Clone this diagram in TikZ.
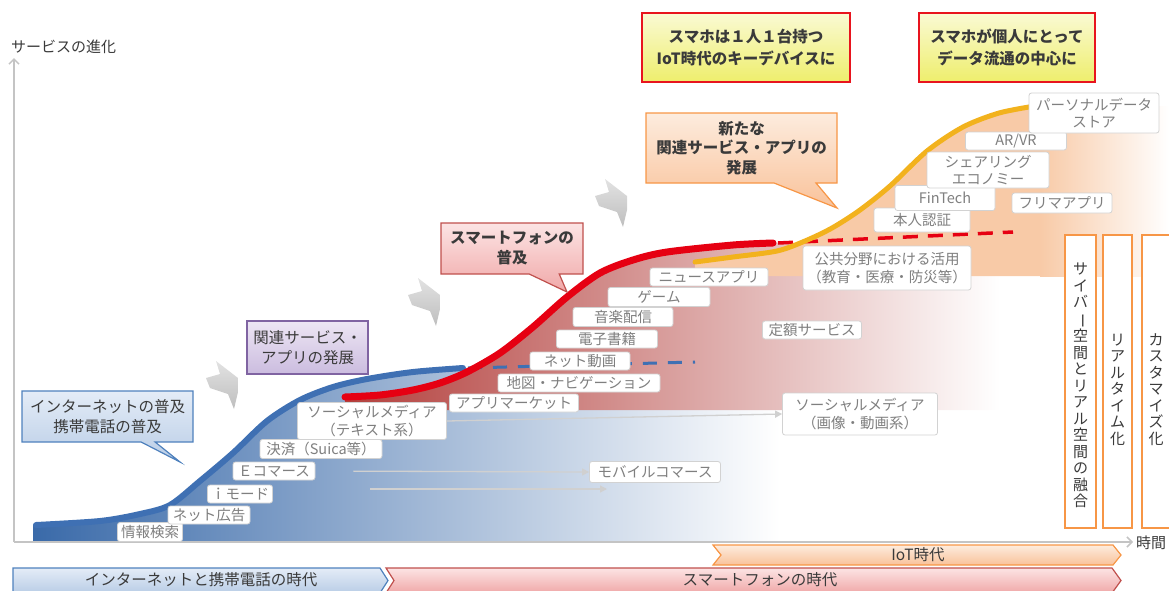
\documentclass[tikz,border=0pt]{standalone}
\usepackage{fontspec}
\setmainfont{Noto Sans CJK JP}
\usetikzlibrary{shapes.callouts,arrows.meta}
\definecolor{bluec}{HTML}{3F70B3}
\definecolor{blueL}{HTML}{3A6AA9}
\definecolor{blueM}{HTML}{A3B9D9}
\definecolor{redc}{HTML}{E60012}
\definecolor{redL}{HTML}{B3403D}
\definecolor{redM}{HTML}{CF8583}
\definecolor{yellowc}{HTML}{F2B21D}
\definecolor{orangeA}{HTML}{F8CAA7}
\definecolor{lblb}{HTML}{D2D2D2}
\definecolor{lblt}{HTML}{7F7F7F}
\definecolor{axisc}{HTML}{C4C4C4}
\definecolor{connc}{HTML}{D0D0D0}
\definecolor{darkt}{HTML}{3A3A3A}
\definecolor{arrT}{HTML}{E2E2E2}
\definecolor{arrB}{HTML}{BEBEBE}
\definecolor{cbB}{HTML}{4F81BD}
\definecolor{cbT1}{HTML}{E4ECF7}
\definecolor{cbB1}{HTML}{B9CDE6}
\definecolor{cpB}{HTML}{8064A2}
\definecolor{cpT1}{HTML}{EDE6F4}
\definecolor{cpB1}{HTML}{CBBCDF}
\definecolor{crB}{HTML}{C0504D}
\definecolor{crT1}{HTML}{FCE4E4}
\definecolor{crB1}{HTML}{F0A8A8}
\definecolor{coB}{HTML}{F79646}
\definecolor{coT1}{HTML}{FDECDE}
\definecolor{coB1}{HTML}{F9C29A}
\definecolor{yB}{HTML}{E8141E}
\definecolor{yT1}{HTML}{FAFAD4}
\definecolor{yB1}{HTML}{EEEE6C}
\newcommand\grayarrow[2]{\shade[top color=arrT, bottom color=arrB, shift={(#1,#2)}] (0,0) -- (22,17) -- (22,31) -- (18,48) -- (12,33) -- (-6,27) -- (-10,17) -- (4,13) -- cycle;}
\newcommand\vbar{\rotatebox[origin=c]{-90}{ー}}
\begin{document}
\begin{tikzpicture}[x=1pt,y=-1pt,
  lbl/.style 2 args={draw=lblb, fill=white, rounded corners=2.5pt, line width=0.8pt, text=lblt,
     font=\fontsize{14.5}{17.5}\selectfont, align=center, inner sep=0pt, minimum width=#1pt, minimum height=#2pt},
  call/.style={rectangle callout, line width=1.2pt, align=center, inner sep=0pt, text=darkt,
     font=\fontsize{15.5}{20}\selectfont},
  ybox/.style={draw=yB, line width=2pt, top color=yT1, bottom color=yB1, align=center, inner sep=0pt,
     text=darkt, font=\fontsize{15.5}{22}\selectfont\bfseries},
  conn/.style={draw=connc, line width=1.3pt, -{Triangle[length=7pt,width=7pt]}},
  axisl/.style={draw=axisc, line width=1.5pt, -{Straight Barb[length=5pt,width=10pt]}},
  vbox/.style={draw=coB, line width=1.6pt, fill=white, inner sep=0pt},
  vtext/.style={text=darkt, font=\fontsize{15}{16.5}\selectfont, align=center, inner sep=0pt},
  bartext/.style={text=darkt, font=\fontsize{15.5}{18}\selectfont, inner sep=0pt}
]
\useasboundingbox (0,0) rectangle (1169,590);

% ---------- areas ----------
\shade[left color=blueL, middle color=blueM, right color=white]
  (33,541) -- plot[smooth] coordinates {(33,525) (100,521) (140,514) (170,505) (200,481) (233,453) (267,421) (300,400) (333,387) (367,379) (413,372) (463,368)}
  -- (780,368) -- (780,541) -- cycle;
\shade[left color=redL, middle color=redM, right color=white]
  (345,410) -- plot[smooth] coordinates {(345,397) (380,395) (413,390) (440,383) (467,372) (500,353) (533,327) (567,297) (600,273) (633,260) (667,252) (733,245) (773,243)}
  -- (1000,243) -- (1000,410) -- cycle;
\fill[orangeA] (695,276) -- plot[smooth] coordinates {(695,262) (733,257) (777,251) (805,241) (832,228) (860,210) (890,186) (927,151) (963,127) (999,113) (1035,106)}
  -- (1041,106) -- (1041,276) -- cycle;
\shade[left color=orangeA, right color=white] (1040,106) rectangle (1169,276);

% ---------- axes ----------
\coordinate (origin) at (14,542);
\coordinate (ytop) at (14,58);
\coordinate (xend) at (1133,542);
\draw[axisl] (origin) -- (ytop);
\draw[axisl] (origin) -- (xend);
\node[anchor=west, text=darkt, font=\fontsize{15}{18}\selectfont, inner sep=0pt] (ylab) at (11,47) {サービスの進化};
\node[anchor=west, text=darkt, font=\fontsize{15}{18}\selectfont, inner sep=0pt] (tlab) at (1136,543) {時間};

% ---------- curves ----------
\draw[bluec, line width=3pt, dash pattern=on 14pt off 11pt] (468,368) -- (695,362);
\draw[redc, line width=3.5pt, dash pattern=on 15pt off 10pt] (778,243) -- (1013,232);
\draw[bluec, line width=6pt, line cap=round] plot[smooth] coordinates {(36,525) (100,521) (140,514) (170,505) (200,481) (233,453) (267,421) (300,400) (333,387) (367,379) (413,372) (463,368)};
\draw[yellowc, line width=5pt, line cap=round] plot[smooth] coordinates {(695,262) (733,257) (777,251) (805,241) (832,228) (860,210) (890,186) (927,151) (963,127) (999,113) (1035,106)};
\draw[redc, line width=7pt, line cap=round] plot[smooth] coordinates {(345,397) (380,395) (413,390) (440,383) (467,372) (500,353) (533,327) (567,297) (600,273) (633,260) (667,252) (733,245) (773,243)};

% ---------- labels ----------
\node[lbl={65}{19}] (kensaku) at (150,532) {情報検索};
\node[lbl={82}{18}] (netad) at (209,515) {ネット広告};
\node[lbl={65}{18}] (imode) at (240,494) {ｉモード};
\node[lbl={82}{18}] (ecom) at (274,471) {Ｅコマース};
\node[lbl={122}{19}] (kessai) at (321,449) {決済（Suica等）};
\node[lbl={149}{37}] (smt) at (372,421) {ソーシャルメディア\\（テキスト系）};
\node[lbl={129}{18}] (appm) at (514,403) {アプリマーケット};
\node[lbl={162}{18}] (map) at (579,383) {地図・ナビゲーション};
\node[lbl={100}{18}] (douga) at (580,361) {ネット動画};
\node[lbl={101}{18}] (denshi) at (607,339) {電子書籍};
\node[lbl={100}{19}] (ongaku) at (623,317) {音楽配信};
\node[lbl={102}{19}] (game) at (659,297) {ゲーム};
\node[lbl={118}{18}] (news) at (709,277) {ニュースアプリ};
\node[lbl={99}{18}] (teigaku) at (812,330) {定額サービス};
\node[lbl={168}{44}] (kokyo) at (887,268) {公共分野における活用\\（教育・医療・防災等）};
\node[lbl={155}{42}] (smi) at (860,414) {ソーシャルメディア\\（画像・動画系）};
\node[lbl={131}{21}] (mob) at (655,472) {モバイルコマース};
\node[lbl={96}{24}] (honnin) at (922,220) {本人認証};
\node[lbl={100}{25}] (fintech) at (945,198) {FinTech};
\node[lbl={100}{20}] (frima) at (1062,203) {フリマアプリ};
\node[lbl={122}{36}] (sharing) at (988,170) {シェアリング\\エコノミー};
\node[lbl={101}{18}] (arvr) at (1016,141) {AR/VR};
\node[lbl={130}{40}] (pds) at (1094,113) {パーソナルデータ\\ストア};

% ---------- connectors ----------
\coordinate (imend) at (607,489);
\draw[conn] (smt.east) -- (smi.west);
\draw[conn, shorten <=38pt] (ecom.east) -- (mob.west);
\draw[conn] ([shift={(97,-5)}]imode.east) -- (imend);

% ---------- gray arrows ----------
\grayarrow{216}{361}
\grayarrow{418}{278}
\grayarrow{605}{179}

% ---------- callouts ----------
\node[call, draw=cbB, top color=cbT1, bottom color=cbB1, minimum width=171pt, minimum height=51pt,
      callout absolute pointer={(180,462)}, callout pointer width=14pt] (cinet) at (107.5,416.5) {インターネットの普及\\携帯電話の普及};
\node[call, draw=cpB, top color=cpT1, bottom color=cpB1, rectangle, minimum width=121pt, minimum height=53pt] (capp) at (307.5,347.5) {関連サービス・\\アプリの発展};
\node[call, draw=crB, top color=crT1, bottom color=crB1, minimum width=142pt, minimum height=51pt,
      font=\fontsize{15.5}{20}\selectfont\bfseries,
      callout absolute pointer={(567,292)}, callout pointer width=30pt] (csmart) at (512,248.5) {スマートフォンの\\普及};
\node[call, draw=coB, top color=coT1, bottom color=coB1, minimum width=191pt, minimum height=70pt,
      font=\fontsize{15.5}{19.5}\selectfont\bfseries,
      callout absolute pointer={(837,208)}, callout pointer width=42pt] (cnew) at (741.5,148) {新たな\\関連サービス・アプリの\\発展};

% ---------- yellow boxes ----------
\node[ybox, minimum width=208pt, minimum height=69pt] (y1) at (746,47.5) {スマホは１人１台持つ\\IoT時代のキーデバイスに};
\node[ybox, minimum width=176pt, minimum height=69pt] (y2) at (1007,47.5) {スマホが個人にとって\\データ流通の中心に};

% ---------- vertical boxes ----------
\node[vbox, minimum width=31pt, minimum height=293pt] (v1) at (1080.5,381.5) {};
\node[vbox, minimum width=29pt, minimum height=293pt] (v2) at (1117.5,381.5) {};
\node[vbox, minimum width=32pt, minimum height=293pt] (v3) at (1158,381.5) {};
\node[vtext] (v1t) at ([shift={(0,4)}]v1.center) {サ\\イ\\バ\\\vbar\\空\\間\\と\\リ\\ア\\ル\\空\\間\\の\\融\\合};
\node[vtext] (v2t) at ([shift={(0,8)}]v2.center) {リ\\ア\\ル\\タ\\イ\\ム\\化};
\node[vtext] (v3t) at ([shift={(-2,8)}]v3.center) {カ\\ス\\タ\\マ\\イ\\ズ\\化};

% ---------- era bars ----------
\shade[top color=coT1, bottom color=coB1, draw=coB, line width=1.2pt]
  (713,545) -- (1113,545) -- (1121,555) -- (1113,565) -- (713,565) -- (721,555) -- cycle;
\node[bartext] (iot) at (918,555) {IoT時代};
\shade[top color=cbT1, bottom color=cbB1, draw=cbB, line width=1.2pt]
  (13,568) -- (380,568) -- (388,580.5) -- (380,593) -- (13,593) -- cycle;
\node[bartext] (inetera) at (201,580) {インターネットと携帯電話の時代};
\shade[top color=crT1, bottom color=crB1, draw=crB, line width=1.2pt]
  (386,568) -- (1112,568) -- (1121,580.5) -- (1112,593) -- (386,593) -- (394,580.5) -- cycle;
\node[bartext] (smartera) at (760,580) {スマートフォンの時代};
\end{tikzpicture}
\end{document}
